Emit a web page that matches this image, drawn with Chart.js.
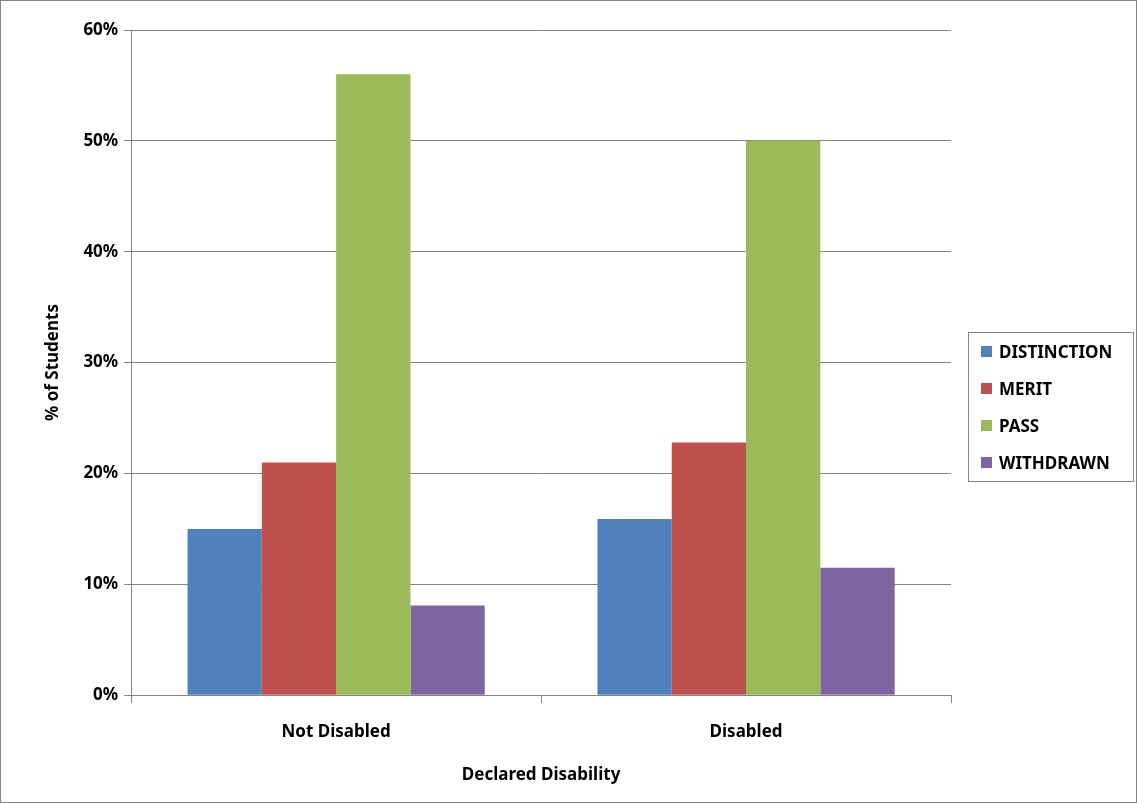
<!DOCTYPE html>
<html>
<head>
<meta charset="utf-8">
<script src="https://cdn.jsdelivr.net/npm/chart.js@4/dist/chart.umd.min.js"></script>
<style>
  body { margin: 0; background: #fff; }
  #wrap { position: relative; width: 1137px; height: 803px; }
  #frame { position: absolute; left: 0; top: 0; width: 1135px; height: 801px; border: 1px solid #868686; pointer-events: none; }
  #legend { position: absolute; left: 968px; top: 332px; width: 166px; height: 150px; border: 1px solid #868686;
    font-family: 'Noto Sans', 'Liberation Sans', sans-serif; font-weight: bold; font-size: 17px; color: #000; box-sizing: border-box; padding-top: 0px; }
  .item { height: 37px; display: flex; align-items: center; padding-left: 12px; }
  .sw { width: 11px; height: 11px; margin-right: 7px; }
</style>
</head>
<body>
<div id="wrap">
  <canvas id="c" width="1137" height="803"></canvas>
  <div id="legend"></div>
  <div id="frame"></div>
</div>
<script>
// Data
const categories = ['Not Disabled', 'Disabled'];
const seriesNames = ['DISTINCTION', 'MERIT', 'PASS', 'WITHDRAWN'];
const seriesColors = ['#4f81bd', '#c0504d', '#9bbb59', '#8064a2'];
const distinction = [15.0, 15.9];
const merit = [21.0, 22.8];
const pass = [56.0, 50.0];
const withdrawn = [8.1, 11.5];
const yTicks = [0, 10, 20, 30, 40, 50, 60];

const seriesValues = [distinction, merit, pass, withdrawn];
const FONT = "'Noto Sans', 'Liberation Sans', sans-serif";

document.getElementById('legend').innerHTML = seriesNames.map((name, i) => `
  <div class="item"><span class="sw" style="background:${seriesColors[i]}"></span>${name}</div>
`).join('');

new Chart(document.getElementById('c'), {
  type: 'bar',
  data: {
    labels: categories,
    datasets: seriesNames.map((name, i) => ({
      label: name,
      data: seriesValues[i],
      backgroundColor: seriesColors[i],
      borderWidth: 0,
      barPercentage: 1.0,
      categoryPercentage: 0.725
    }))
  },
  options: {
    responsive: false,
    animation: false,
    layout: { padding: { left: 39, right: 186, top: 30, bottom: 14 } },
    plugins: { legend: { display: false }, tooltip: { enabled: false } },
    scales: {
      x: {
        grid: { drawOnChartArea: false, color: '#868686', tickLength: 21, tickBorderDash: [7, 40] },
        border: { color: '#868686' },
        ticks: { font: { family: FONT, size: 17, weight: 'bold' }, color: '#000', padding: 6 },
        title: { display: true, text: 'Declared Disability', font: { family: FONT, size: 17, weight: 'bold' }, color: '#000', padding: { top: 16 } }
      },
      y: {
        min: 0, max: 60,
        afterBuildTicks: axis => { axis.ticks = yTicks.map(v => ({ value: v })); },
        grid: { color: '#868686', tickLength: 7 },
        border: { color: '#868686' },
        ticks: { font: { family: FONT, size: 17, weight: 'bold' }, color: '#000', padding: 6, callback: v => v + '%' },
        title: { display: true, text: '% of Students', font: { family: FONT, size: 17, weight: 'bold' }, color: '#000', padding: { bottom: 14 } }
      }
    }
  }
});
</script>
</body>
</html>
